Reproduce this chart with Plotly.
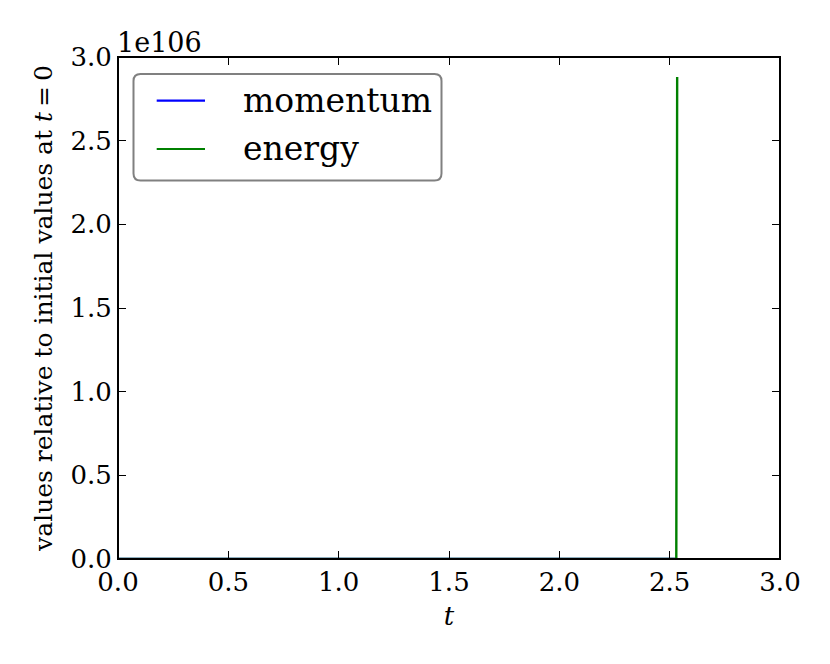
import plotly.graph_objects as go

# data: values relative to initial values at t=0
t = [0.0, 0.5, 1.0, 1.5, 2.0, 2.5, 2.530, 2.534]
momentum = [1.0, 1.0, 1.0, 1.0, 1.0, 1.0, 1.0, 1.0]
energy = [1.0, 1.0, 1.0, 1.0, 1.0, 1.0, 1.0, 2.88e106]

series_names = ["momentum", "energy"]
series_colors = ["#0000ff", "#008000"]

scale = 1e106
x_ticks = [0.0, 0.5, 1.0, 1.5, 2.0, 2.5, 3.0]
x_labels = ["0.0", "0.5", "1.0", "1.5", "2.0", "2.5", "3.0"]
y_ticks = [0.0, 0.5, 1.0, 1.5, 2.0, 2.5, 3.0]
y_labels = ["0.0", "0.5", "1.0", "1.5", "2.0", "2.5", "3.0"]

serif = "DejaVu Serif"
tickfont = dict(family=serif, size=26, color="black")

fig = go.Figure()
for name, vals, col in zip(series_names, [momentum, energy], series_colors):
    fig.add_trace(go.Scatter(x=t, y=vals, mode="lines", name=name, showlegend=False,
                             line=dict(color=col, width=2.4)))

axis_common = dict(showgrid=False, zeroline=False, showline=True, linecolor="black",
                   linewidth=1, mirror="ticks", ticks="inside", ticklen=8,
                   tickwidth=1.2, tickcolor="black", tickfont=tickfont,
                   layer="above traces")

fig.update_layout(
    width=830, height=664,
    paper_bgcolor="white", plot_bgcolor="white",
    margin=dict(l=110, r=58, t=49, b=113),
    font=dict(family=serif, color="black"),
    xaxis=dict(range=[0, 3], tickvals=x_ticks, ticktext=x_labels,
               title=dict(text="<i>t</i>", font=dict(family=serif, size=26), standoff=10),
               **axis_common),
    yaxis=dict(range=[0, 3 * scale], tickvals=[v * scale for v in y_ticks], ticktext=y_labels,
               title=dict(text="values relative to initial values at <i>t</i>\u2009=\u20090",
                          font=dict(family=serif, size=25), standoff=10),
               **axis_common),
    showlegend=False,
)

# frame drawn over the traces (like matplotlib spines)
fig.add_shape(type="rect", xref="paper", yref="paper", x0=0, x1=1, y0=0, y1=1,
              line=dict(color="black", width=2), fillcolor="rgba(0,0,0,0)", layer="above")

# offset label
fig.add_annotation(text="1e106", x=0, y=1, xref="paper", yref="paper",
                   xanchor="left", yanchor="bottom", showarrow=False,
                   font=dict(family=serif, size=27, color="black"), yshift=-3, xshift=-3)

# custom legend (matplotlib-like rounded box)
PX_L, PX_R, PX_T, PX_B = 118.0, 780.0, 57.0, 559.0
def px(xp):
    return (xp - PX_L) / (PX_R - PX_L)
def py(yp):
    return (PX_B - yp) / (PX_B - PX_T)

bx0, bx1, by0, by1 = px(133.5), px(441.5), py(180.5), py(74)
rx, ry = 7 / (PX_R - PX_L), 7 / (PX_B - PX_T)
path = (f"M {bx0+rx},{by1} L {bx1-rx},{by1} Q {bx1},{by1} {bx1},{by1-ry} "
        f"L {bx1},{by0+ry} Q {bx1},{by0} {bx1-rx},{by0} "
        f"L {bx0+rx},{by0} Q {bx0},{by0} {bx0},{by0+ry} "
        f"L {bx0},{by1-ry} Q {bx0},{by1} {bx0+rx},{by1} Z")
fig.add_shape(type="path", path=path, xref="paper", yref="paper",
              line=dict(color="#808080", width=2), fillcolor="white", layer="above")

row_y = [100.7, 149.0]
for name, col, ry_px in zip(series_names, series_colors, row_y):
    fig.add_shape(type="line", xref="paper", yref="paper",
                  x0=px(156.7), x1=px(205), y0=py(ry_px), y1=py(ry_px),
                  line=dict(color=col, width=2.2), layer="above")
    fig.add_annotation(text=name, x=px(241.5), y=py(ry_px), xref="paper", yref="paper",
                       xanchor="left", yanchor="middle", showarrow=False,
                       font=dict(family=serif, size=33, color="black"), xshift=-1)

fig.write_html("out.html")
